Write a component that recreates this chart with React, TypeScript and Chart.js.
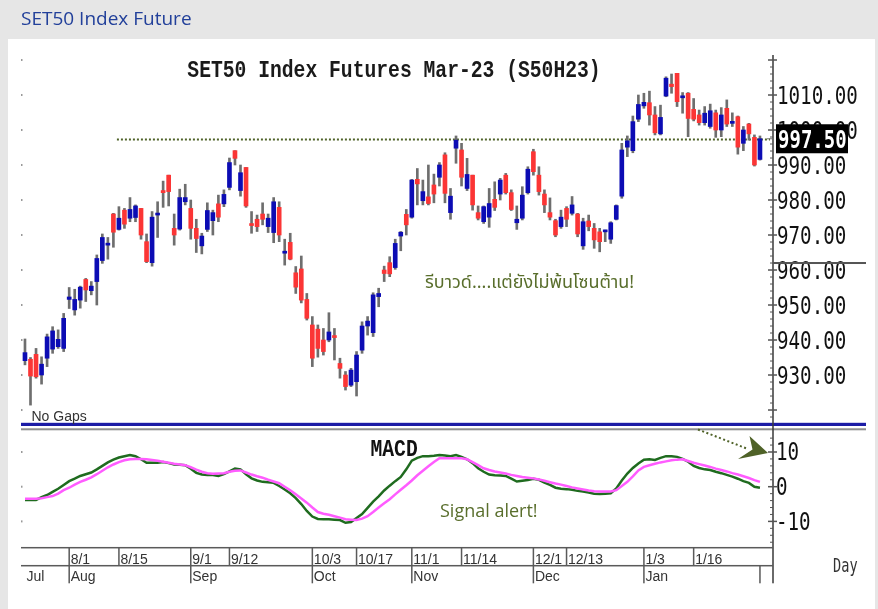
import React, { useEffect, useRef } from 'react';
import { Chart, registerables } from 'chart.js';

Chart.register(...registerables);

// ---------- data ----------
const dates = [
  '7/18','7/19','7/20','7/21','7/22','7/25','7/26','7/27',
  '8/1','8/2','8/3','8/4','8/5','8/8','8/9','8/10','8/11','8/15','8/16','8/17','8/18','8/19','8/22','8/23','8/24','8/25','8/26','8/29','8/30','8/31',
  '9/1','9/2','9/5','9/6','9/7','9/8','9/9','9/12','9/13','9/14','9/15','9/16','9/19','9/20','9/21','9/22','9/23','9/26','9/27','9/28','9/29','9/30',
  '10/3','10/4','10/5','10/6','10/7','10/10','10/11','10/12','10/17','10/18','10/19','10/20','10/21','10/25','10/26','10/27','10/28','10/31',
  '11/1','11/2','11/3','11/4','11/7','11/8','11/9','11/10','11/11','11/14','11/15','11/16','11/17','11/18','11/21','11/22','11/23','11/24','11/25','11/28','11/29','11/30',
  '12/1','12/2','12/6','12/7','12/8','12/9','12/13','12/14','12/15','12/16','12/19','12/20','12/21','12/22','12/23','12/26','12/27','12/28','12/29','12/30',
  '1/3','1/4','1/5','1/6','1/9','1/10','1/11','1/12','1/13','1/16','1/17','1/18','1/19','1/20','1/23','1/24','1/25','1/26','1/27','1/30','1/31','2/1',
];

const open = [
  934.1, 934.5, 935.9, 930.0, 934.8, 937.4, 938.1, 937.6, 951.6, 948.6,
  951.4, 957.3, 954.1, 956.7, 962.7, 967.1, 976.0, 971.6, 977.1, 974.8,
  975.0, 977.6, 968.1, 962.1, 975.7, 982.7, 987.1, 971.9, 971.7, 979.5,
  977.6, 971.9, 966.9, 971.6, 974.1, 978.9, 978.9, 983.6, 994.1, 982.7,
  989.3, 973.1, 974.5, 976.0, 972.4, 970.7, 977.9, 964.8, 967.9, 959.2,
  960.3, 951.6, 944.3, 943.1, 940.0, 940.0, 941.0, 933.3, 930.0, 927.1,
  928.1, 937.1, 944.0, 942.1, 952.4, 960.0, 962.1, 960.7, 969.7, 975.9,
  975.1, 985.9, 979.8, 980.9, 984.3, 986.5, 992.9, 976.4, 994.8, 994.3,
  983.3, 987.1, 976.4, 973.8, 975.1, 980.2, 981.7, 987.1, 982.1, 973.5,
  974.8, 982.1, 993.8, 987.1, 981.7, 976.4, 974.1, 972.4, 977.6, 976.2,
  976.0, 966.9, 974.0, 971.9, 970.9, 970.9, 968.8, 974.5, 981.1, 995.1,
  994.1, 1003.1, 1006.9, 1007.8, 1004.3, 998.9, 1009.7, 1013.1, 1016.2, 1009.2,
  1010.5, 1005.9, 1004.3, 1002.1, 1001.0, 1004.9, 1000.0, 1006.2, 1001.9, 1003.8,
  996.2, 1001.7, 997.9, 991.6,
];
const high = [
  940.3, 935.0, 937.6, 935.2, 941.7, 943.8, 942.9, 947.6, 955.0, 954.5,
  955.4, 957.6, 956.7, 964.3, 970.3, 969.3, 976.2, 978.1, 977.6, 980.7,
  978.6, 977.6, 970.3, 976.7, 979.5, 985.4, 987.1, 976.0, 983.1, 984.5,
  980.0, 974.5, 970.5, 979.2, 977.1, 981.4, 982.9, 992.0, 994.1, 990.0,
  989.3, 976.7, 975.7, 979.2, 976.0, 980.7, 979.5, 968.8, 970.5, 961.0,
  964.0, 953.3, 946.7, 944.3, 943.3, 947.8, 943.3, 934.8, 931.0, 931.9,
  936.7, 945.2, 946.7, 953.5, 954.8, 961.1, 963.8, 968.8, 971.0, 977.3,
  985.9, 989.0, 985.7, 990.0, 987.4, 990.7, 993.5, 983.3, 998.3, 996.2,
  991.9, 987.1, 978.3, 978.3, 983.3, 985.2, 986.2, 987.6, 982.9, 978.3,
  983.8, 989.5, 994.5, 989.5, 982.9, 980.6, 974.5, 977.1, 978.1, 981.0,
  976.2, 974.8, 975.7, 973.3, 971.9, 971.4, 973.8, 978.6, 996.2, 998.3,
  1004.0, 1010.0, 1010.5, 1011.1, 1006.7, 1007.1, 1015.2, 1016.0, 1016.2, 1010.7,
  1010.7, 1009.0, 1005.7, 1006.7, 1007.4, 1005.7, 1006.4, 1008.6, 1004.9, 1004.0,
  1001.0, 1001.9, 998.6, 998.3,
];
const low = [
  932.9, 921.4, 929.1, 927.4, 932.4, 936.2, 937.6, 936.7, 949.0, 947.1,
  949.1, 951.0, 952.9, 950.0, 961.9, 963.1, 966.5, 971.4, 971.9, 973.8,
  973.8, 968.8, 962.1, 961.1, 969.3, 977.9, 978.3, 967.1, 971.4, 978.6,
  968.8, 965.0, 964.6, 971.0, 970.0, 973.8, 978.1, 982.9, 990.0, 981.1,
  977.9, 970.5, 971.0, 972.9, 970.7, 967.8, 968.1, 961.4, 962.9, 953.3,
  950.6, 945.7, 932.4, 935.1, 935.7, 939.5, 934.3, 929.1, 925.7, 926.7,
  924.0, 936.2, 941.4, 941.0, 949.5, 956.7, 958.1, 960.2, 965.5, 970.0,
  974.8, 978.6, 978.6, 978.6, 979.2, 984.0, 979.2, 974.5, 990.5, 984.0,
  982.7, 977.1, 974.3, 973.3, 972.2, 977.0, 980.0, 981.7, 977.0, 971.6,
  974.3, 981.7, 987.1, 981.4, 976.4, 974.3, 969.5, 971.9, 972.4, 975.7,
  969.5, 965.9, 971.2, 966.2, 965.2, 968.1, 967.6, 974.3, 980.5, 992.4,
  993.5, 1002.4, 1006.2, 1001.4, 998.6, 998.6, 1009.5, 1010.5, 1006.7, 1004.8,
  998.1, 1002.6, 1001.4, 1001.4, 1000.5, 997.9, 998.1, 1001.0, 1001.0, 993.1,
  994.1, 997.1, 989.7, 991.4,
];
const close = [
  936.4, 929.7, 929.5, 933.1, 940.9, 942.6, 940.2, 946.2, 952.3, 951.6,
  955.1, 954.3, 955.4, 963.3, 969.3, 967.4, 970.8, 974.8, 973.1, 977.3,
  978.3, 970.0, 962.4, 975.1, 975.9, 982.1, 982.4, 970.0, 980.7, 980.7,
  971.9, 969.0, 969.7, 977.0, 976.4, 975.1, 981.6, 990.7, 991.9, 987.8,
  978.3, 972.7, 972.4, 974.5, 974.8, 979.5, 970.0, 965.2, 963.1, 955.1,
  951.4, 946.2, 934.8, 937.6, 936.7, 942.3, 940.7, 931.9, 926.7, 931.4,
  935.7, 944.0, 945.4, 952.9, 953.3, 959.0, 958.9, 967.6, 970.8, 972.9,
  985.7, 984.6, 982.4, 979.0, 981.7, 990.0, 981.9, 981.1, 997.1, 986.5,
  987.3, 978.6, 974.8, 978.1, 979.0, 977.9, 985.7, 982.1, 977.3, 974.5,
  981.4, 988.8, 988.1, 982.4, 978.6, 975.1, 970.0, 975.1, 974.5, 978.6,
  970.3, 973.8, 972.4, 968.6, 968.1, 971.2, 973.5, 978.4, 994.3, 996.9,
  1002.4, 1007.3, 1007.9, 1004.3, 999.2, 1003.6, 1014.8, 1012.4, 1008.1, 1009.5,
  1003.3, 1003.1, 1002.1, 1004.8, 1005.5, 1000.0, 1004.3, 1001.7, 1002.2, 995.1,
  1000.0, 998.9, 990.0, 997.5,
];

const macd = [
  -3.8, -3.8, -3.8, -3.0, -2.4, -1.5, -0.6, 0.5, 1.6, 2.3,
  3.1, 3.6, 4.1, 5.0, 6.0, 7.0, 7.8, 8.4, 8.8, 9.1,
  8.8, 7.9, 6.9, 6.9, 6.9, 7.1, 6.8, 6.4, 6.3, 6.2,
  5.2, 4.0, 3.5, 3.4, 3.4, 3.1, 3.6, 4.4, 5.2, 5.0,
  3.6, 2.4, 1.8, 1.4, 1.3, 1.1, 0.2, -0.8, -1.9, -3.3,
  -5.0, -7.0, -8.6, -9.3, -9.4, -9.4, -9.5, -9.6, -10.4, -10.2,
  -9.0, -7.9, -6.1, -4.3, -2.8, -1.1, 0.3, 1.6, 2.8, 5.0,
  7.5, 8.3, 8.8, 8.8, 8.9, 9.1, 9.0, 8.8, 9.1, 8.6,
  7.9, 6.8, 5.3, 4.3, 3.5, 3.3, 3.2, 3.1, 2.3, 1.5,
  1.7, 1.9, 2.3, 2.0, 1.2, 0.5, -0.3, -0.6, -0.7, -0.9,
  -1.2, -1.4, -1.7, -2.0, -2.1, -2.0, -1.9, -0.5, 1.8, 3.8,
  5.4, 6.7, 7.8, 7.9, 7.7, 8.3, 8.8, 8.8, 8.6, 8.0,
  7.2, 6.0, 5.4, 5.0, 4.8, 4.3, 3.9, 3.4, 2.9, 2.3,
  1.6, 1.1, 0.0, -0.3,
];
const signal = [
  -3.5, -3.5, -3.5, -3.3, -3.0, -2.7, -2.0, -1.0, -0.3, 0.6,
  1.4, 2.0, 2.7, 3.6, 4.6, 5.6, 6.4, 7.1, 7.6, 7.9,
  8.0, 8.0, 7.9, 7.7, 7.5, 7.2, 6.9, 6.6, 6.4, 6.2,
  5.6, 4.9, 4.3, 3.9, 3.7, 3.8, 3.9, 4.3, 4.6, 4.7,
  4.1, 3.5, 3.0, 2.6, 2.0, 1.5, 1.0, 0.0, -1.0, -2.2,
  -3.4, -4.6, -6.0, -7.3, -7.8, -8.1, -8.5, -8.9, -9.4, -9.5,
  -9.6, -9.2, -8.5, -7.3, -6.0, -4.8, -3.6, -2.2, -0.9, 0.4,
  1.8, 3.3, 4.6, 5.9, 7.1, 8.2, 8.2, 8.2, 8.2, 8.2,
  7.9, 7.1, 6.2, 5.3, 4.8, 4.4, 4.1, 3.8, 3.4, 3.1,
  2.8, 2.6, 2.4, 2.1, 1.7, 1.3, 0.9, 0.6, 0.2, -0.2,
  -0.5, -0.8, -1.1, -1.3, -1.4, -1.4, -1.4, -1.0, 0.2, 1.4,
  3.0, 4.7, 5.7, 6.2, 6.6, 7.0, 7.3, 7.6, 7.8, 7.9,
  7.4, 6.9, 6.5, 6.1, 5.7, 5.2, 4.8, 4.4, 3.9, 3.5,
  3.0, 2.5, 1.9, 1.4,
];

const priceTicks = [930, 940, 950, 960, 970, 980, 990, 1000, 1010];
const macdTicks = [-10, 0, 10];
const dayLabels = ['8/1', '8/15', '9/1', '9/12', '10/3', '10/17', '11/1', '11/14', '12/1', '12/13', '1/3', '1/16'];
const monthStarts = ['7/18', '8/1', '9/1', '10/3', '11/1', '12/1', '1/3', '2/1'];
const monthLabels = ['Jul', 'Aug', 'Sep', 'Oct', 'Nov', 'Dec', 'Jan', ''];
const lastPrice = 997.5;
const resistance = 997.5;
const resistanceFromDate = '8/15';
const markerLevel = 962;

const chartTitle = 'SET50 Index Futures Mar-23 (S50H23)';
const thaiNote = 'รีบาวด์....แต่ยังไม่พ้นโซนต้าน!';
const signalNote = 'Signal alert!';

// ---------- styles ----------
const BLUE = '#0c0cb4';
const RED = '#fb3535';
const WICK = '#6e6e6e';
const GREEN = '#1f6b1f';
const MAGENTA = '#ff5cff';
const OLIVE = '#596e2c';
const MONO = '"DejaVu Sans Mono", monospace';
const TITLE_FONT = '"Liberation Mono", monospace';
const NARROW = '"Liberation Sans Narrow", "Liberation Sans", Arial, sans-serif';

function drawText(ctx: CanvasRenderingContext2D, s: string, x: number, y: number, font: string, color: string, sx = 1, align: CanvasTextAlign = 'left') {
  ctx.save();
  ctx.translate(x, y);
  ctx.scale(sx, 1);
  ctx.font = font;
  ctx.fillStyle = color;
  ctx.textAlign = align;
  ctx.textBaseline = 'alphabetic';
  ctx.fillText(s, 0, 0);
  ctx.restore();
}

const decor = {
  id: 'decor',
  beforeDraw(chart: any) {
    const ctx = chart.ctx as CanvasRenderingContext2D;
    ctx.save();
    ctx.fillStyle = '#e6e6e6';
    ctx.fillRect(0, 0, chart.width, chart.height);
    ctx.fillStyle = '#ffffff';
    ctx.fillRect(8, 39, chart.width - 11, chart.height - 39);
    ctx.restore();
  },
  beforeDatasetsDraw(chart: any) {
    const ctx = chart.ctx as CanvasRenderingContext2D;
    const { x, y } = chart.scales;
    const py = Math.round(y.getPixelForValue(resistance)) + 0.5;
    ctx.save();
    ctx.strokeStyle = '#4f6228';
    ctx.lineWidth = 2;
    ctx.setLineDash([2, 2]);
    ctx.beginPath();
    ctx.moveTo(x.getPixelForValue(dates.indexOf(resistanceFromDate)) - 2, py);
    ctx.lineTo(chart.chartArea.right - 3, py);
    ctx.stroke();
    ctx.restore();
  },
  afterDraw(chart: any) {
    const ctx = chart.ctx as CanvasRenderingContext2D;
    const ca = chart.chartArea;
    const { x, y, y2 } = chart.scales;
    const L = ca.left;
    const axisX = ca.right;
    const rightEdge = 866;
    const rowTop = ca.bottom;
    const rowMid = rowTop + 18;
    const rowBot = rowTop + 35.6;
    ctx.save();

    // panel separator
    const sepY = y.bottom;
    ctx.fillStyle = '#1c1ca6';
    ctx.fillRect(L, sepY - 7.2, rightEdge - L, 3.2);
    ctx.fillStyle = '#8e8e8e';
    ctx.fillRect(L, sepY - 1.7, rightEdge - L, 2);

    // axis line
    ctx.fillStyle = '#3a3a3a';
    ctx.fillRect(axisX - 0.75, ca.top, 1.5, rowBot - ca.top);

    // price ticks
    for (let v = Math.ceil(y.min / 2) * 2; v <= y.max; v += 2) {
      const py = y.getPixelForValue(v);
      if (py > sepY - 8) continue;
      ctx.fillStyle = '#555';
      if (v % 10 === 0) {
        ctx.fillRect(axisX - 5, py - 0.75, 9, 1.5);
        ctx.fillStyle = '#999';
        ctx.fillRect(L, py - 1, 1.5, 2);
      } else {
        ctx.fillRect(axisX - 3, py - 0.5, 3, 1);
      }
    }
    priceTicks.forEach((v) => {
      const py = y.getPixelForValue(v);
      drawText(ctx, v.toFixed(2), axisX + 4, py + 8.5, '24px ' + MONO, '#111', 0.8);
    });

    // marker line across axis area
    const my = y.getPixelForValue(markerLevel);
    ctx.fillStyle = '#555';
    ctx.fillRect(axisX, my - 1, rightEdge - axisX, 2);

    // last price box
    const lp = y.getPixelForValue(lastPrice);
    ctx.fillStyle = '#000';
    ctx.fillRect(axisX + 3, lp - 14.5, 72, 29);
    drawText(ctx, lastPrice.toFixed(2), axisX + 5, lp + 9.5, 'bold 25px ' + MONO, '#fff', 0.76);
    ctx.fillStyle = '#777';
    ctx.fillRect(axisX - 6, lp - 0.5, 5, 1);

    // MACD ticks
    for (let v = Math.ceil(y2.min / 2) * 2; v <= y2.max; v += 2) {
      const py = y2.getPixelForValue(v);
      if (py < y2.top + 2) continue;
      ctx.fillStyle = '#555';
      if (v % 10 === 0) {
        ctx.fillRect(axisX - 5, py - 0.75, 9, 1.5);
        ctx.fillStyle = '#999';
        ctx.fillRect(L, py - 1, 1.5, 2);
      } else {
        ctx.fillRect(axisX - 3, py - 0.5, 3, 1);
      }
    }
    macdTicks.forEach((v) => {
      const py = y2.getPixelForValue(v);
      drawText(ctx, String(v), axisX + 3, py + 8.5, '24px ' + MONO, '#111', 0.8);
    });

    // date rows
    ctx.fillStyle = '#5a5a5a';
    ctx.fillRect(L, rowTop - 0.75, axisX - L, 1.5);
    ctx.fillRect(L, rowMid - 0.75, axisX - L, 1.5);
    dayLabels.forEach((d) => {
      const px = x.getPixelForValue(dates.indexOf(d));
      ctx.fillStyle = '#5a5a5a';
      ctx.fillRect(px - 0.75, rowTop, 1.5, rowMid - rowTop);
      drawText(ctx, d, px + 1.5, rowMid - 1.8, '14px ' + NARROW, '#333');
    });
    monthStarts.forEach((d, k) => {
      const px = x.getPixelForValue(dates.indexOf(d));
      if (k > 0) {
        ctx.fillStyle = '#5a5a5a';
        ctx.fillRect(px - 0.75, rowMid, 1.5, rowBot - rowMid);
      }
      if (monthLabels[k]) drawText(ctx, monthLabels[k], px + 1.5, rowBot - 2.8, '14px ' + NARROW, '#333');
    });
    drawText(ctx, 'Day', 833, 572, '20px ' + MONO, '#333', 0.68);

    // titles and notes
    drawText(ctx, chartTitle, 394, 77, 'bold 24px ' + TITLE_FONT, '#1a1a1a', 0.82, 'center');
    drawText(ctx, 'MACD', 370.5, 456, 'bold 24px ' + TITLE_FONT, '#111', 0.82);
    drawText(ctx, 'No Gaps', 31.5, 420.5, '14px ' + NARROW, '#333');
    drawText(ctx, thaiNote, 425, 288, '18px "Noto Sans Thai", "Noto Sans", "DejaVu Sans", sans-serif', OLIVE);
    drawText(ctx, signalNote, 440, 517, '18px "Open Sans", "Noto Sans", sans-serif', OLIVE);

    // arrow
    ctx.strokeStyle = '#4f6228';
    ctx.lineWidth = 2;
    ctx.setLineDash([2, 2.5]);
    ctx.beginPath();
    ctx.moveTo(698, 429.5);
    ctx.lineTo(748, 449);
    ctx.stroke();
    ctx.setLineDash([]);
    ctx.fillStyle = '#4f6228';
    ctx.beginPath();
    ctx.moveTo(749.5, 436);
    ctx.lineTo(768, 453);
    ctx.lineTo(738, 459);
    ctx.lineTo(752.5, 449.5);
    ctx.closePath();
    ctx.fill();

    ctx.restore();
  },
};

export default function App() {
  const ref = useRef<HTMLCanvasElement>(null);

  useEffect(() => {
    const canvas = ref.current;
    if (!canvas) return;
    const idx = dates.map((_, i) => i);
    const bodies = idx.map((i) => ({ x: i, y: [open[i], close[i]] }));
    const wicks = idx.map((i) => ({ x: i, y: [low[i], high[i]] }));
    const bodyColors = idx.map((i) => (close[i] >= open[i] ? BLUE : RED));

    const chart = new Chart(canvas, {
      type: 'bar',
      data: {
        datasets: [
          {
            type: 'line',
            label: 'Signal',
            data: signal.map((v, i) => ({ x: i, y: v })),
            yAxisID: 'y2',
            borderColor: MAGENTA,
            borderWidth: 2.5,
            pointRadius: 0,
            tension: 0,
            order: 0,
          } as any,
          {
            type: 'line',
            label: 'MACD',
            data: macd.map((v, i) => ({ x: i, y: v })),
            yAxisID: 'y2',
            borderColor: GREEN,
            borderWidth: 2.5,
            pointRadius: 0,
            tension: 0,
            order: 1,
          } as any,
          {
            type: 'bar',
            label: 'Body',
            data: bodies,
            yAxisID: 'y',
            backgroundColor: bodyColors,
            barThickness: 4,
            minBarLength: 2,
            grouped: false,
            order: 2,
          } as any,
          {
            type: 'bar',
            label: 'Wick',
            data: wicks,
            yAxisID: 'y',
            backgroundColor: WICK,
            barThickness: 2,
            grouped: false,
            order: 3,
          } as any,
        ],
      },
      options: {
        animation: false,
        responsive: false,
        devicePixelRatio: 1,
        events: [],
        layout: { padding: { left: 21, top: 55, right: 0, bottom: 61.3 } },
        plugins: { legend: { display: false }, tooltip: { enabled: false } },
        scales: {
          x: { type: 'linear', min: -0.72, max: 135.36, offset: false, display: false },
          y: {
            type: 'linear',
            position: 'right',
            stack: 'panels',
            stackWeight: 375,
            min: 914.29,
            max: 1021.43,
            beginAtZero: false,
            grid: { display: false },
            border: { display: false },
            ticks: { display: false },
            afterFit: (s: any) => { s.width = 105; },
          },
          y2: {
            type: 'linear',
            position: 'right',
            stack: 'panels',
            stackWeight: 117.7,
            min: -17.58,
            max: 16.34,
            beginAtZero: false,
            grid: { display: false },
            border: { display: false },
            ticks: { display: false },
            afterFit: (s: any) => { s.width = 105; },
          },
        },
      } as any,
      plugins: [decor],
    });
    return () => chart.destroy();
  }, []);

  return (
    <div style={{ position: 'absolute', left: 0, top: 0, width: 878, height: 609 }}>
      <canvas ref={ref} width={878} height={609} style={{ display: 'block', width: 878, height: 609 }} />
      <div
        style={{
          position: 'absolute',
          left: 21,
          top: 9,
          fontFamily: '"Open Sans", "Noto Sans", sans-serif',
          fontSize: 19,
          lineHeight: '19px',
          color: '#22409a',
          whiteSpace: 'nowrap',
        }}
      >
        SET50 Index Future
      </div>
    </div>
  );
}
